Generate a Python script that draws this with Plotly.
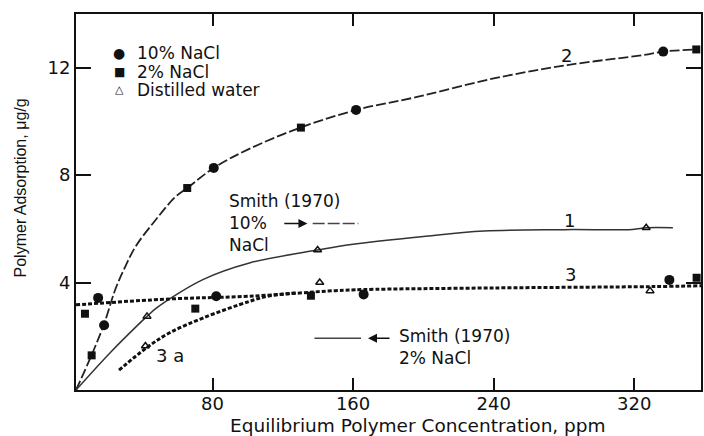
import plotly.graph_objects as go

# measured points
circle_x = [14.9, 18.3, 80.7, 82.1, 161.7, 166, 336.5, 340]
circle_y = [3.43, 2.41, 8.27, 3.49, 10.43, 3.56, 12.6, 4.1]
square_x = [7.4, 11.2, 65.6, 70.2, 130.3, 136, 355.3, 355.5]
square_y = [2.84, 1.29, 7.52, 3.03, 9.77, 3.51, 12.68, 4.18]
tri_x = [41.8, 42.7, 139.8, 141, 326.8, 329]
tri_y = [1.64, 2.74, 5.21, 4.0, 6.04, 3.69]

# fitted curves
c2_x = [2.3, 11.5, 18.5, 24.7, 30, 36.3, 47.7, 59, 65.6, 80.7, 100, 130, 162, 197, 240, 282, 325, 336.5, 355.3]
c2_y = [0, 1.35, 2.5, 3.75, 4.55, 5.35, 6.34, 7.2, 7.52, 8.27, 8.95, 9.77, 10.43, 10.92, 11.6, 12.1, 12.47, 12.6, 12.68]
c1_x = [2.3, 21.6, 36.7, 42.7, 48, 74.5, 101, 139.8, 158.9, 200, 234.5, 280, 319, 327, 342]
c1_y = [0, 1.38, 2.37, 2.74, 3.05, 4.11, 4.73, 5.21, 5.42, 5.72, 5.92, 5.97, 5.98, 6.04, 6.04]
c3_x = [2.3, 55.6, 101, 150, 166, 240, 330, 358]
c3_y = [3.17, 3.39, 3.49, 3.7, 3.74, 3.8, 3.85, 3.88]
c3a_x = [26.8, 42.4, 55.6, 74.5, 101, 112, 128]
c3a_y = [0.74, 1.57, 2.13, 2.68, 3.3, 3.5, 3.62]

# Smith (1970) reference levels
smith10_x = [137, 163]
smith10_y = [6.2, 6.2]
smith2_x = [138, 164.5]
smith2_y = [1.93, 1.93]

legend_names = ["10% NaCl", "2% NaCl", "Distilled water"]
legend_glyphs = ["●", "■", "△"]

ink = "#111111"
tfont = dict(family="DejaVu Sans", size=18, color=ink)

fig = go.Figure()
fig.add_trace(go.Scatter(x=c2_x, y=c2_y, mode="lines", line=dict(color="#222", width=1.8, dash="10px,3px", shape="spline")))
fig.add_trace(go.Scatter(x=c1_x, y=c1_y, mode="lines", line=dict(color="#333", width=1.5, shape="spline")))
fig.add_trace(go.Scatter(x=c3_x, y=c3_y, mode="lines", line=dict(color=ink, width=3, dash="4px,2px", shape="spline")))
fig.add_trace(go.Scatter(x=c3a_x, y=c3a_y, mode="lines", line=dict(color=ink, width=3, dash="4px,2px", shape="spline")))
fig.add_trace(go.Scatter(x=smith10_x, y=smith10_y, mode="lines", line=dict(color="#444", width=1.5, dash="12px,3px")))
fig.add_trace(go.Scatter(x=smith2_x, y=smith2_y, mode="lines", line=dict(color="#444", width=1.5)))

fig.add_trace(go.Scatter(x=circle_x, y=circle_y, mode="markers", name=legend_names[0],
                         marker=dict(symbol="circle", size=10, color=ink)))
fig.add_trace(go.Scatter(x=square_x, y=square_y, mode="markers", name=legend_names[1],
                         marker=dict(symbol="square", size=8, color=ink)))
fig.add_trace(go.Scatter(x=tri_x, y=tri_y, mode="markers", name=legend_names[2],
                         marker=dict(symbol="triangle-up-open", size=7, color=ink, line=dict(width=1.5))))

# key, drawn as text so rows sit as tight as in the original
glyph_sizes = [14, 12, 11]
for i, (g, n) in enumerate(zip(legend_glyphs, legend_names)):
    yp = 0.896 - i * 0.049
    fig.add_annotation(x=0.069, y=yp, xref="paper", yref="paper", text=g, showarrow=False,
                       xanchor="center", yanchor="middle",
                       font=dict(family="DejaVu Sans", size=glyph_sizes[i], color=ink))
    fig.add_annotation(x=0.095, y=yp, xref="paper", yref="paper", text=n, showarrow=False,
                       xanchor="left", yanchor="middle",
                       font=dict(family="DejaVu Sans", size=17, color=ink))

for x, y, t in [(281.4, 12.47, "2"), (283.1, 6.3, "1"), (283.7, 4.29, "3"), (55.6, 1.28, "3 a")]:
    fig.add_annotation(x=x, y=y, text=t, showarrow=False, font=tfont)

fig.add_annotation(x=88.5, y=6.2, text="Smith (1970)<br>10%<br>NaCl", showarrow=False,
                   xanchor="left", align="left", font=dict(family="DejaVu Sans", size=17, color=ink))
fig.add_annotation(x=185, y=1.6, text="Smith (1970)<br>2% NaCl", showarrow=False,
                   xanchor="left", align="left", font=dict(family="DejaVu Sans", size=17, color=ink))

fig.add_annotation(x=134, y=6.2, ax=120, ay=6.2, axref="x", ayref="y", text="",
                   showarrow=True, arrowhead=2, arrowsize=1.2, arrowwidth=1.5, arrowcolor=ink)
fig.add_annotation(x=168.5, y=1.93, ax=181.6, ay=1.93, axref="x", ayref="y", text="",
                   showarrow=True, arrowhead=2, arrowsize=1.2, arrowwidth=1.5, arrowcolor=ink)

# axis titles (off-centre in the original)
fig.add_annotation(x=0.547, y=-0.094, xref="paper", yref="paper", showarrow=False,
                   text="Equilibrium Polymer Concentration, ppm", xanchor="center", yanchor="middle",
                   font=dict(family="DejaVu Sans", size=18.5, color=ink))
fig.add_annotation(x=-0.089, y=0.537, xref="paper", yref="paper", showarrow=False, textangle=-90,
                   text="Polymer Adsorption, μg/g", xanchor="center", yanchor="middle",
                   font=dict(family="Liberation Sans, Arial", size=16, color=ink))

axis_common = dict(showline=True, linecolor=ink, linewidth=2, mirror="ticks", ticks="inside",
                   tickcolor=ink, tickwidth=2, showgrid=False, zeroline=False,
                   tickfont=dict(family="DejaVu Sans", size=18, color=ink))

fig.update_layout(
    width=704, height=436,
    margin=dict(l=76, r=1, t=14, b=46),
    paper_bgcolor="white", plot_bgcolor="white",
    showlegend=False,
    xaxis=dict(range=[2.3, 358], tickvals=[80, 160, 240, 320], ticklen=12,
               ticklabelstandoff=-4, **axis_common),
    yaxis=dict(range=[0, 14], tickvals=[4, 8, 12], ticklen=15, **axis_common),
)

fig.write_html("out.html", config={"displayModeBar": False},
               post_script="document.body.style.margin='0';")
